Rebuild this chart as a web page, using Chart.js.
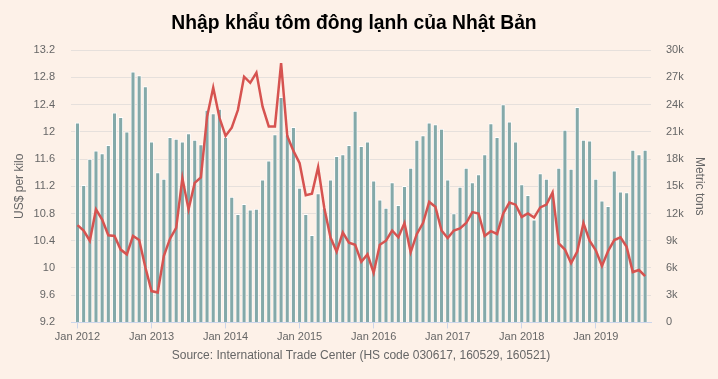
<!DOCTYPE html>
<html>
<head>
<meta charset="utf-8">
<script src="https://cdn.jsdelivr.net/npm/chart.js@4.4.1/dist/chart.umd.min.js"></script>
<style>
    html, body { margin: 0; padding: 0; background: #fdf1e8; }
    #wrap { width: 718px; height: 379px; position: relative; }
</style>
</head>
<body>
<div id="wrap"><canvas id="shrimpChart"></canvas></div>
<script>
// Monthly data, Jan 2012 - Sep 2019
const tons = [
    22000, 15100, 18000, 18900, 18600, 19500, 23100, 22600, 21000, 27600, 27200, 26000,
    19900, 16500, 15800, 20400, 20200, 19900, 20800, 20100, 19600, 23400, 23000, 23500,
    20400, 13800, 11900, 13000, 12400, 12500, 15700, 17800, 20700, 24800, 20700, 21500,
    14800, 11900, 9600, 14200, 12600, 15700, 18300, 18500, 19500, 23300, 19400, 19900,
    15600, 13500, 12600, 15400, 12900, 15000, 17000, 20100, 20600, 22000, 21800, 21300,
    15700, 12000, 14900, 17000, 15400, 16300, 18500, 21900, 20400, 24000, 22100, 19900,
    15200, 14000, 11300, 16400, 15800, 14300, 17000, 21200, 16900, 23700, 20100, 20000,
    15800, 13400, 12800, 16700, 14400, 14300, 19000, 18500, 19000
];

const pricePerKilo = [
    10.63, 10.55, 10.40, 10.86, 10.71, 10.48, 10.47, 10.27, 10.20, 10.47, 10.41, 10.01,
    9.66, 9.64, 10.18, 10.43, 10.59, 11.32, 10.86, 11.25, 11.33, 12.22, 12.65, 12.21,
    11.94, 12.06, 12.32, 12.81, 12.72, 12.87, 12.37, 12.08, 12.08, 13.01, 11.94, 11.72,
    11.54, 11.07, 11.09, 11.48, 10.88, 10.45, 10.24, 10.52, 10.37, 10.34, 10.09, 10.20,
    9.93, 10.34, 10.40, 10.55, 10.45, 10.66, 10.23, 10.50, 10.66, 10.97, 10.90, 10.55,
    10.44, 10.55, 10.58, 10.66, 10.82, 10.80, 10.47, 10.54, 10.50, 10.80, 10.96, 10.93,
    10.75, 10.80, 10.74, 10.89, 10.93, 11.11, 10.36, 10.27, 10.07, 10.24, 10.66, 10.40,
    10.26, 10.03, 10.25, 10.41, 10.45, 10.31, 9.94, 9.97, 9.88
];

const xTickLabels = ['Jan 2012', 'Jan 2013', 'Jan 2014', 'Jan 2015', 'Jan 2016', 'Jan 2017', 'Jan 2018', 'Jan 2019'];
const xTickMonths = [0, 12, 24, 36, 48, 60, 72, 84];
const priceTicks = [9.2, 9.6, 10, 10.4, 10.8, 11.2, 11.6, 12, 12.4, 12.8, 13.2];
const tonTicks = [0, 3000, 6000, 9000, 12000, 15000, 18000, 21000, 24000, 27000, 30000];

const FONT = "'Liberation Sans', Arial, sans-serif";
const TEXT = '#666666';

// background fill
const bgPlugin = {
    id: 'bg',
    beforeDraw(chart) {
        const ctx = chart.ctx;
        ctx.save();
        ctx.fillStyle = '#fdf1e8';
        ctx.fillRect(0, 0, chart.width, chart.height);
        ctx.restore();
    }
};

document.addEventListener('DOMContentLoaded', function() {
    const ctx = document.getElementById('shrimpChart').getContext('2d');

    new Chart(ctx, {
        type: 'bar',
        data: {
            datasets: [{
                type: 'line',
                label: 'US$ per kilo',
                data: pricePerKilo.map((v, i) => ({ x: i, y: v })),
                yAxisID: 'yPrice',
                borderColor: '#d65350',
                borderWidth: 2.5,
                pointRadius: 0,
                tension: 0,
                order: 0
            }, {
                type: 'bar',
                label: 'Metric tons',
                data: tons.map((v, i) => ({ x: i, y: v })),
                yAxisID: 'yTons',
                backgroundColor: '#84a9a9',
                borderColor: '#ffffff',
                borderWidth: { left: 0.8, right: 0.8, top: 1, bottom: 0 },
                barThickness: 4,
                order: 1
            }]
        },
        options: {
            responsive: true,
            maintainAspectRatio: false,
            animation: false,
            layout: {
                padding: { left: 0, right: 10, top: 4, bottom: 16 }
            },
            plugins: {
                legend: { display: false },
                tooltip: { enabled: false },
                title: {
                    display: true,
                    text: 'Nhập khẩu tôm đông lạnh của Nhật Bản',
                    color: '#000000',
                    font: { family: FONT, size: 19.3, weight: 'bold' },
                    padding: { top: 8, bottom: 15 }
                }
            },
            scales: {
                x: {
                    type: 'linear',
                    offset: false,
                    min: -1.05,
                    max: 92.95,
                    afterBuildTicks: function(scale) {
                        scale.ticks = xTickMonths.map(v => ({ value: v }));
                    },
                    ticks: {
                        color: TEXT,
                        font: { family: FONT, size: 11 },
                        autoSkip: false,
                        maxRotation: 0,
                        padding: 2,
                        callback: function(value) {
                            return xTickLabels[xTickMonths.indexOf(value)];
                        }
                    },
                    grid: {
                        offset: false,
                        drawOnChartArea: false,
                        drawTicks: true,
                        tickLength: 6,
                        color: '#ccd6eb'
                    },
                    border: { color: '#ccd6eb' },
                    title: {
                        display: true,
                        text: 'Source: International Trade Center (HS code 030617, 160529, 160521)',
                        color: TEXT,
                        font: { family: FONT, size: 12 },
                        padding: { top: 3, bottom: 0 }
                    }
                },
                yPrice: {
                    type: 'linear',
                    position: 'left',
                    min: 9.2,
                    max: 13.2,
                    afterBuildTicks: function(scale) {
                        scale.ticks = priceTicks.map(v => ({ value: v }));
                    },
                    afterFit: function(scale) {
                        scale.width = 71;
                    },
                    ticks: {
                        color: TEXT,
                        font: { family: FONT, size: 11 },
                        padding: 16,
                        callback: function(value) {
                            return String(parseFloat(value.toFixed(1)));
                        }
                    },
                    grid: {
                        color: '#e6e0dc',
                        drawTicks: false
                    },
                    border: { display: false },
                    title: {
                        display: true,
                        text: 'US$ per kilo',
                        color: TEXT,
                        font: { family: FONT, size: 12 },
                        padding: { top: 12.8, bottom: 0 }
                    }
                },
                yTons: {
                    type: 'linear',
                    position: 'right',
                    min: 0,
                    max: 30000,
                    afterBuildTicks: function(scale) {
                        scale.ticks = tonTicks.map(v => ({ value: v }));
                    },
                    afterFit: function(scale) {
                        scale.width = 57;
                    },
                    ticks: {
                        color: TEXT,
                        font: { family: FONT, size: 11 },
                        padding: 15,
                        callback: function(value) {
                            return value === 0 ? '0' : (value / 1000) + 'k';
                        }
                    },
                    grid: {
                        drawOnChartArea: false,
                        drawTicks: false
                    },
                    border: { display: false },
                    title: {
                        display: true,
                        text: 'Metric tons',
                        color: TEXT,
                        font: { family: FONT, size: 12 },
                        padding: { top: 1, bottom: 0 }
                    }
                }
            }
        },
        plugins: [bgPlugin]
    });
});
</script>
</body>
</html>
